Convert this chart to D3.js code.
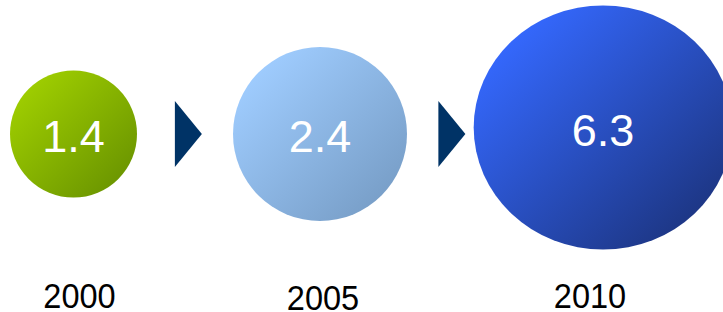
<html>
<head>
<script src="https://d3js.org/d3.v7.min.js"></script>
<style>
  body { margin: 0; background: #fff; }
  svg { display: block; }
</style>
</head>
<body>
<svg width="723" height="312"></svg>
<script>
  // data
  var years = [2000, 2005, 2010];
  var values = [1.4, 2.4, 6.3];
  var valueLabels = ["1.4", "2.4", "6.3"];
  var gradStart = ["#9dcc00", "#9ecbfd", "#3467fb"];
  var gradEnd = ["#6a9400", "#779dc6", "#1c347f"];

  var svg = d3.select("svg");
  var width = +svg.attr("width");
  var height = +svg.attr("height");

  var data = years.map(function(y, i) {
    return { year: y, value: values[i], label: valueLabels[i], c0: gradStart[i], c1: gradEnd[i] };
  });

  // scales
  var x = d3.scaleLinear().domain([2000, 2005, 2010]).range([73.5, 320, 603]);
  var r = d3.scaleLinear().domain([1.4, 2.4, 6.3]).range([63.5, 87, 122]);
  var stretch = d3.scaleLinear().domain([2.4, 6.3]).range([1, 1.06]).clamp(true);
  var cy = d3.scaleLinear().domain([2.4, 6.3]).range([134, 127.5]).clamp(true);

  var defs = svg.append("defs");
  data.forEach(function(d, i) {
    var g = defs.append("linearGradient")
      .attr("id", "grad" + i)
      .attr("x1", "0").attr("y1", "0")
      .attr("x2", "1").attr("y2", "1");
    g.append("stop").attr("offset", "0.15").attr("stop-color", d.c0);
    g.append("stop").attr("offset", "0.9").attr("stop-color", d.c1);
  });

  // arrows between bubbles
  var arrowYears = years.slice(0, -1).map(function(y) { return y + 2.33; });
  svg.selectAll(".arrow")
    .data(arrowYears)
    .enter().append("path")
    .attr("class", "arrow")
    .attr("fill", "#003366")
    .attr("d", function(d) {
      var ax = x(d), ay = 134;
      return "M" + (ax - 13.5) + "," + (ay - 33) +
             "L" + (ax + 13.5) + "," + ay +
             "L" + (ax - 13.5) + "," + (ay + 33) + "Z";
    });

  // bubbles
  svg.selectAll(".bubble")
    .data(data)
    .enter().append("ellipse")
    .attr("class", "bubble")
    .attr("cx", function(d) { return x(d.year); })
    .attr("cy", function(d) { return cy(d.value); })
    .attr("rx", function(d) { return r(d.value) * stretch(d.value); })
    .attr("ry", function(d) { return r(d.value); })
    .attr("fill", function(d, i) { return "url(#grad" + i + ")"; });

  // value labels
  svg.selectAll(".val")
    .data(data)
    .enter().append("text")
    .attr("class", "val")
    .attr("x", function(d) { return x(d.year); })
    .attr("y", function(d) { return cy(d.value) + 18; })
    .attr("text-anchor", "middle")
    .attr("font-family", "Liberation Sans, Arial, sans-serif")
    .attr("font-size", 45)
    .attr("fill", "#fff")
    .text(function(d) { return d.label; });

  // year labels (slightly condensed like the original)
  var yearX = d3.scaleLinear().domain([2000, 2005, 2010]).range([79.5, 323, 590]);
  var yearY = [307.5, 310, 307.5];
  svg.selectAll(".year")
    .data(data)
    .enter().append("text")
    .attr("class", "year")
    .attr("transform", function(d, i) {
      return "translate(" + yearX(d.year) + "," + yearY[i] + ") scale(0.93,1)";
    })
    .attr("text-anchor", "middle")
    .attr("font-family", "Liberation Sans, Arial, sans-serif")
    .attr("font-size", 35)
    .attr("fill", "#000")
    .text(function(d) { return d.year; });
</script>
</body>
</html>
